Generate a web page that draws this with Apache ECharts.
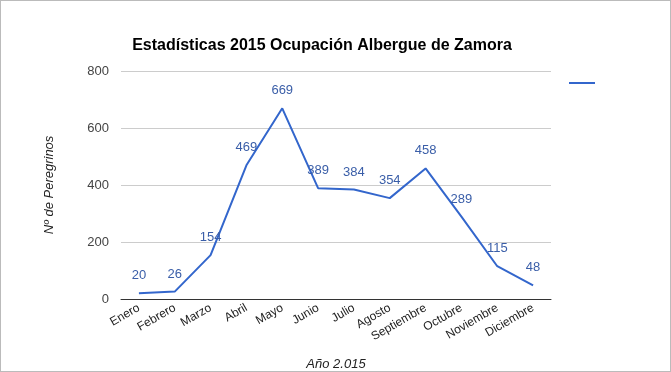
<!DOCTYPE html>
<html><head><meta charset="utf-8">
<script src="https://cdn.jsdelivr.net/npm/echarts@6/dist/echarts.min.js"></script>
<style>html,body{margin:0;padding:0;background:#fff}#c{width:669px;height:370px;border:1px solid #bbb}</style>
</head><body><div id="c"></div>
<script>
const categories = ['Enero','Febrero','Marzo','Abril','Mayo','Junio','Julio','Agosto','Septiembre','Octubre','Noviembre','Diciembre'];
const values = [20, 26, 154, 469, 669, 389, 384, 354, 458, 289, 115, 48];
const yTicks = [0, 200, 400, 600, 800];
const chart = echarts.init(document.getElementById('c'));
const F = '"Liberation Sans", Arial, sans-serif';
chart.setOption({
  animation: false,
  title: {text: 'Estadísticas 2015 Ocupación Albergue de Zamora', left: 316, textAlign: 'center', top: 32,
    textStyle: {fontFamily: F, fontSize: 16, fontWeight: 'bold', color: '#000'}},
  legend: {show: true, left: 563, top: 76, itemWidth: 26, itemHeight: 2, icon: 'rect', itemGap: 0,
    data: [{name: ' ', itemStyle: {color: '#3366cc'}}], textStyle: {fontSize: 1}},
  grid: {left: 120, right: 119, top: 70, bottom: 72, containLabel: false, outerBoundsMode: 'none'},
  xAxis: {type: 'category', data: categories, boundaryGap: true,
    name: 'Año 2.015', nameLocation: 'middle', nameGap: 59,
    nameTextStyle: {fontFamily: F, fontSize: 13, fontStyle: 'italic', color: '#222'},
    axisLine: {lineStyle: {color: '#333'}}, axisTick: {show: false},
    axisLabel: {rotate: 30, fontFamily: F, fontSize: 12, color: '#222', margin: 8, interval: 0}},
  yAxis: {type: 'value', min: yTicks[0], max: yTicks[yTicks.length-1], interval: 200,
    name: 'Nº de Peregrinos', nameLocation: 'middle', nameGap: 65, nameRotate: 90,
    nameTextStyle: {fontFamily: F, fontSize: 13, fontStyle: 'italic', color: '#222'},
    axisLine: {show: false}, axisTick: {show: false},
    splitLine: {lineStyle: {color: '#ccc'}},
    axisLabel: {fontFamily: F, fontSize: 13, color: '#444', margin: 12}},
  series: [{name: ' ', type: 'line', data: values, symbol: 'circle', symbolSize: 0.1, showSymbol: true,
    color: '#3366cc', itemStyle: {color: '#3366cc'},
    lineStyle: {width: 2, color: '#3366cc'},
    labelLayout: {hideOverlap: false},
    label: {show: true, position: 'top', distance: 11, fontFamily: F, fontSize: 13, color: '#3a5ea8'}}]
});
</script></body></html>
